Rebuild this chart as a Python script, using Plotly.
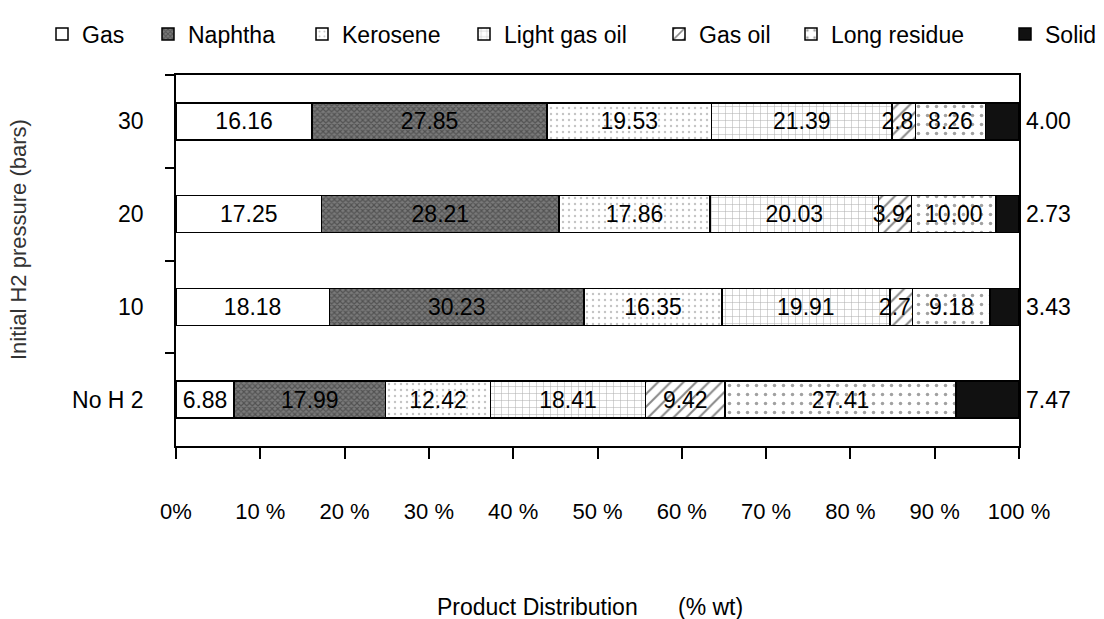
import plotly.graph_objects as go

# ---------------- data ----------------
categories = ["30", "20", "10", "No H 2"]
products = ["Gas", "Naphtha", "Kerosene", "Light gas oil", "Gas oil", "Long residue", "Solid"]
gas = [16.16, 17.25, 18.18, 6.88]
naphtha = [27.85, 28.21, 30.23, 17.99]
kerosene = [19.53, 17.86, 16.35, 12.42]
light_gas_oil = [21.39, 20.03, 19.91, 18.41]
gas_oil = [2.81, 3.92, 2.72, 9.42]
long_residue = [8.26, 10.00, 9.18, 27.41]
solid = [4.00, 2.73, 3.43, 7.47]
x_tick_values = [0, 10, 20, 30, 40, 50, 60, 70, 80, 90, 100]
x_tick_labels = ["0%", "10 %", "20 %", "30 %", "40 %", "50 %", "60 %", "70 %", "80 %", "90 %", "100 %"]
y_title = "Initial H2 pressure (bars)"
x_title_left = "Product Distribution"
x_title_right = "(% wt)"

series = [gas, naphtha, kerosene, light_gas_oil, gas_oil, long_residue, solid]
row_totals = [sum(s[i] for s in series) for i in range(len(categories))]

# ---------------- styles ----------------
FONT = "Liberation Sans, Arial, sans-serif"
FS = 23
styles = {
    "Gas": dict(color="white", pattern=dict(shape="")),
    "Naphtha": dict(color="#6e6e6e", pattern=dict(shape="x", fgcolor="#2a2a2a", bgcolor="#7a7a7a", size=4, solidity=0.5)),
    "Kerosene": dict(color="white", pattern=dict(shape=".", fgcolor="#888888", bgcolor="white", size=6, solidity=0.12)),
    "Light gas oil": dict(color="white", pattern=dict(shape="+", fgcolor="#666666", bgcolor="white", size=7, solidity=0.15)),
    "Gas oil": dict(color="white", pattern=dict(shape="/", fgcolor="#111111", bgcolor="white", size=9, solidity=0.22)),
    "Long residue": dict(color="white", pattern=dict(shape=".", fgcolor="#444444", bgcolor="white", size=9, solidity=0.12)),
    "Solid": dict(color="#111111", pattern=dict(shape="")),
}
# legend placement: pixel x of each legend's left edge (container coords)
legend_px = [42, 148, 302, 464, 659, 791, 1005]

W, H = 1104, 619
ML, MR, MT, MB = 176, 85, 75, 173
PW = W - ML - MR
PH = H - MT - MB

fig = go.Figure()
for i, (name, vals) in enumerate(zip(products, series)):
    st = styles[name]
    lg = "legend" if i == 0 else f"legend{i+1}"
    is_solid = name == "Solid"
    fig.add_trace(go.Bar(
        y=categories, x=vals, name=name, orientation="h",
        marker=dict(color=st["color"], pattern=st["pattern"],
                    line=dict(color="black", width=1.5)),
        text=None if is_solid else [f"{v:.2f}" for v in vals],
        textposition="none" if is_solid else "inside",
        insidetextanchor="middle",
        textangle=0,
        constraintext="none",
        textfont=dict(family=FONT, size=FS, color="black"),
        legend=lg,
        hoverinfo="x+name",
    ))

layout_legends = {}
for i, px in enumerate(legend_px):
    key = "legend" if i == 0 else f"legend{i+1}"
    layout_legends[key] = dict(
        xref="container", yref="container",
        x=px / W, xanchor="left",
        y=1 - 34 / H, yanchor="middle",
        orientation="h", bgcolor="rgba(0,0,0,0)",
        font=dict(family=FONT, size=FS, color="black"),
        borderwidth=0,
    )

# solid-fraction labels to the right of each stacked bar's end
# (y given as category index so numeric-looking names are not read as numbers)
solid_labels = [
    dict(text=f"{v:.2f}", x=tot, y=idx, xref="x", yref="y",
         xanchor="left", yanchor="middle", xshift=5, showarrow=False,
         font=dict(family=FONT, size=FS, color="black"))
    for idx, (tot, v) in enumerate(zip(row_totals, solid))
]

fig.update_layout(
    width=W, height=H,
    margin=dict(l=ML, r=MR, t=MT, b=MB, autoexpand=False),
    paper_bgcolor="white", plot_bgcolor="white",
    barmode="stack", bargap=0.6,
    font=dict(family=FONT, size=FS, color="black"),
    uniformtext=dict(minsize=FS, mode="show"),
    showlegend=True,
    **layout_legends,
    xaxis=dict(
        range=[0, 100], tickvals=x_tick_values, ticktext=x_tick_labels,
        ticks="outside", ticklen=11, tickwidth=1.5, tickcolor="black",
        showline=True, linecolor="black", linewidth=1.5, mirror=True,
        showgrid=False, zeroline=False, ticklabelstandoff=34,
        tickfont=dict(family=FONT, size=22, color="black"),
    ),
    yaxis=dict(
        type="category",
        categoryorder="array", categoryarray=categories,
        range=[len(categories) - 0.5, -0.5],
        ticks="outside", ticklen=9, tickwidth=1.5, tickcolor="black",
        tickson="boundaries",
        showline=True, linecolor="black", linewidth=1.5, mirror=True,
        showgrid=False, zeroline=False, ticklabelstandoff=26,
        tickfont=dict(family=FONT, size=FS, color="black"),
    ),
    annotations=solid_labels + [
        dict(text=y_title, textangle=-90, xref="paper", yref="paper",
             x=0, xshift=-(ML - 18), y=(H - MB - 240) / PH,
             xanchor="center", yanchor="middle", showarrow=False,
             font=dict(family=FONT, size=22, color="#333333")),
        dict(text=x_title_left, xref="paper", yref="paper",
             x=(537 - ML) / PW, y=-(607 - (H - MB)) / PH,
             xanchor="center", yanchor="middle", showarrow=False,
             font=dict(family=FONT, size=FS, color="black")),
        dict(text=x_title_right, xref="paper", yref="paper",
             x=(710 - ML) / PW, y=-(607 - (H - MB)) / PH,
             xanchor="center", yanchor="middle", showarrow=False,
             font=dict(family=FONT, size=FS, color="black")),
    ],
)

fig.write_html("out.html")
